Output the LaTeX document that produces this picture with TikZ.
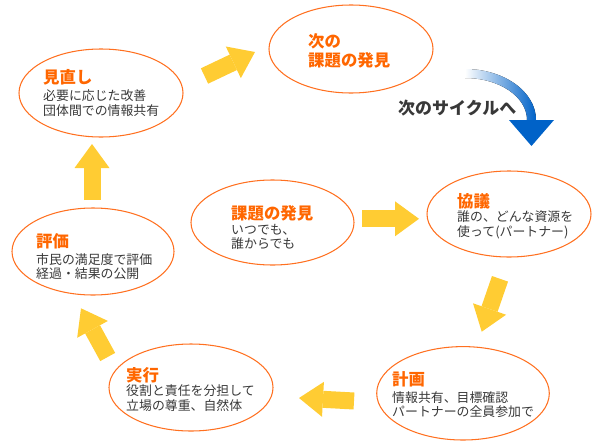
\documentclass[tikz,border=0pt]{standalone}
\usepackage{fontspec}
\setmainfont{Noto Sans CJK JP}
\usepackage{xcolor}
\usepackage{tikz}
\usetikzlibrary{shapes.geometric,arrows.meta}
\definecolor{ovline}{HTML}{FF7020}
\definecolor{ttlorange}{HTML}{FF6600}
\definecolor{bodygrey}{HTML}{383838}
\definecolor{yel}{HTML}{FFCC33}
\definecolor{cycblue}{HTML}{0062C8}

\begin{document}
\begin{tikzpicture}[x=0.03cm,y=0.03cm]
\tikzstyle{every node}+=[inner sep=0pt]
\tikzset{
  oval/.style 2 args={ellipse,draw=ovline,line width=0.9pt,minimum width=#1*0.06cm,minimum height=#2*0.06cm},
  ttl/.style={anchor=west,align=left,text=ttlorange,font=\fontsize{14}{16.2}\selectfont\bfseries},
  bodytxt/.style={anchor=west,align=left,text=bodygrey,font=\fontsize{11}{12.3}\selectfont},
  yarrow/.style={draw=yel,line width=0.51cm,-{Triangle[width=1.05cm,length=0.72cm,line width=0pt]}}
}
\useasboundingbox (0,0) rectangle (600,-447);
\node [oval={82}{44}] (rev) at (101,-93) {};
\node [ttl] (rev-t) at (43,-77.5) {見直し};
\node [bodytxt] (rev-b) at (43,-103.3) {必要に応じた改善\\団体間での情報共有};
\node [oval={82}{44}] (next) at (351,-49) {};
\node [ttl] (next-t) at (308,-50.5) {次の\\課題の発見};
\node [oval={81.5}{42.5}] (disc) at (272.5,-222.5) {};
\node [ttl] (disc-t) at (231,-213) {課題の発見};
\node [bodytxt] (disc-b) at (231,-236.8) {いつでも、\\誰からでも};
\node [oval={82}{43}] (conf) at (509,-214) {};
\node [ttl] (conf-t) at (457,-201) {協議};
\node [bodytxt] (conf-b) at (457,-225) {誰の、どんな資源を\\使って(パートナー)};
\node [oval={86.3}{46.7}] (plan) at (463,-393.3) {};
\node [ttl] (plan-t) at (392,-379.5) {計画};
\node [bodytxt] (plan-b) at (392,-404.5) {情報共有、目標確認\\パートナーの全員参加で};
\node [oval={82}{43.5}] (exec) at (191,-387.5) {};
\node [ttl] (exec-t) at (126,-375) {実行};
\node [bodytxt] (exec-b) at (126,-398.2) {役割と責任を分担して\\立場の尊重、自然体};
\node [oval={81}{43.5}] (eval) at (93,-251.5) {};
\node [ttl] (eval-t) at (36,-241.5) {評価};
\node [bodytxt] (eval-b) at (36,-266.8) {市民の満足度で評価\\経過・結果の公開};
\coordinate (rev2next-s) at (204.5,-76);
\coordinate (rev2next-e) at (255,-52);
\coordinate (eval2rev-s) at (92,-200);
\coordinate (eval2rev-e) at (92,-144);
\coordinate (disc2conf-s) at (362,-218.8);
\coordinate (disc2conf-e) at (419,-218.8);
\coordinate (conf2plan-s) at (500,-278.8);
\coordinate (conf2plan-e) at (481.7,-331.7);
\coordinate (plan2exec-s) at (354,-401);
\coordinate (plan2exec-e) at (299,-398);
\coordinate (exec2eval-s) at (107.7,-357);
\coordinate (exec2eval-e) at (81,-308.3);
\draw [yarrow] (rev2next-s) -- (rev2next-e);
\draw [yarrow] (eval2rev-s) -- (eval2rev-e);
\draw [yarrow] (disc2conf-s) -- (disc2conf-e);
\draw [yarrow] (conf2plan-s) -- (conf2plan-e);
\draw [yarrow] (plan2exec-s) -- (plan2exec-e);
\draw [yarrow] (exec2eval-s) -- (exec2eval-e);
\coordinate (cyc-s) at (465,-69);
\coordinate (cyc-e) at (531.5,-120);
\fill [left color=white,right color=cycblue] (cyc-s) arc [start angle=90,end angle=0,x radius=2.13cm,y radius=1.53cm] -- (527,-120) arc [start angle=0,end angle=90,x radius=1.86cm,y radius=1.26cm] -- cycle;
\fill [cycblue] (cyc-e) ++(-22.5,0) -- ++(45,0) -- ++(-22.5,-26) -- cycle;
\node [anchor=west,text=bodygrey,font=\fontsize{14.5}{16}\selectfont\bfseries] (cyc-t) at (398,-108) {次のサイクルへ};
\end{tikzpicture}
\end{document}
